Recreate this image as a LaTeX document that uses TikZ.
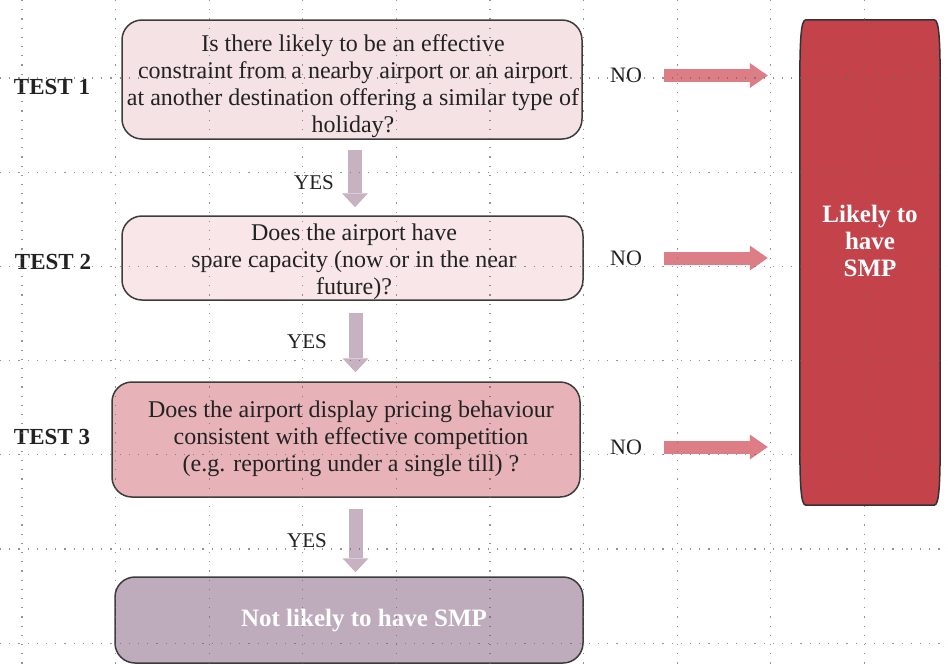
\documentclass[tikz,border=0pt]{standalone}
\usepackage{fontspec}
\setmainfont{Liberation Serif}
\usetikzlibrary{arrows.meta,calc}
\definecolor{bonefill}{HTML}{F5E2E5}
\definecolor{btwofill}{HTML}{F8E6E8}
\definecolor{bthreefill}{HTML}{E7B3B8}
\definecolor{bfourfill}{HTML}{BEABBC}
\definecolor{smpred}{HTML}{C4424A}
\definecolor{arrpink}{HTML}{DD7E86}
\definecolor{arrmauve}{HTML}{C7B2C2}
\definecolor{boxline}{HTML}{3C3C3C}
\definecolor{txt}{HTML}{222222}
\tikzset{
  qbox/.style={draw=boxline, line width=1.5pt, rounded corners=20pt, inner sep=0pt},
  qtext/.style={align=center, inner sep=0pt, text=txt, font=\fontsize{24}{27}\selectfont},
  testlbl/.style={font=\fontsize{23}{27}\selectfont\bfseries, text=txt, inner sep=0pt},
  yeslbl/.style={font=\fontsize{21}{25}\selectfont, text=txt, inner sep=0pt},
  nolbl/.style={font=\fontsize{22}{25}\selectfont, text=txt, inner sep=0pt},
  rarrow/.style={draw=arrpink, line width=13pt, -{Triangle[length=18pt,width=25pt,line width=0pt]}},
  darrow/.style={draw=arrmauve, line width=14pt, -{Triangle[length=14pt,width=26pt,line width=0pt]}},
  gridline/.style={draw=black!60, line width=1.1pt, dash pattern=on 1.2pt off 8pt, opacity=0.7},
  whitebold/.style={text=white, font=\fontsize{25}{27}\selectfont\bfseries, align=center, inner sep=0pt}
}
\begin{document}
\begin{tikzpicture}[x=1pt,y=-1pt]
\useasboundingbox (0,0) rectangle (948,664);
\fill[white] (0,0) rectangle (948,664);

% question boxes
\node[qbox, fill=bonefill, minimum width=460pt, minimum height=119pt] (b1) at (352,79.5) {};
\node[qtext] (b1txt) at (353,86)
  {Is there likely to be an effective\\constraint from a nearby airport or an airport\\at another destination offering a similar type of\\holiday?};
\node[qbox, fill=btwofill, minimum width=461pt, minimum height=84pt] (b2) at (352.5,258) {};
\node[qtext] (b2txt) at (354,262)
  {Does the airport have\\spare capacity (now or in the near\\future)?};
\node[qbox, fill=bthreefill, minimum width=468pt, minimum height=115pt] (b3) at (346,439.5) {};
\node[qtext] (b3txt) at (351,439)
  {Does the airport display pricing behaviour\\consistent with effective competition\\(e.g. reporting under a single till) ?};
\node[qbox, fill=bfourfill, minimum width=468pt, minimum height=86pt] (b4) at (349,620) {};
\node[whitebold] (b4txt) at (364,621) {Not likely to have SMP};

% SMP box
\node[minimum width=140pt, minimum height=485pt, inner sep=0pt] (smp) at (870,262.5) {};
\filldraw[fill=smpred, draw=black!80, line width=1.5pt]
  ($(smp.north west)+(6,0)$) -- ($(smp.north east)+(-6,0)$)
  .. controls ($(smp.north east)+(-1,0)$) and ($(smp.north east)+(0,20)$) .. ($(smp.north east)+(0,70)$)
  -- ($(smp.south east)+(0,-70)$)
  .. controls ($(smp.south east)+(0,-20)$) and ($(smp.south east)+(-1,0)$) .. ($(smp.south east)+(-6,0)$)
  -- ($(smp.south west)+(6,0)$)
  .. controls ($(smp.south west)+(1,0)$) and ($(smp.south west)+(0,-20)$) .. ($(smp.south west)+(0,-70)$)
  -- ($(smp.north west)+(0,70)$)
  .. controls ($(smp.north west)+(0,20)$) and ($(smp.north west)+(1,0)$) .. cycle;
\node[whitebold] (smptxt) at (870,241) {Likely to\\have\\SMP};

% test labels
\node[testlbl] (t1) at (52,87) {TEST 1};
\node[testlbl] (t2) at (53,262) {TEST 2};
\node[testlbl] (t3) at (52,437) {TEST 3};

% YES labels and down arrows
\node[yeslbl] (y1) at (314,183) {YES};
\node[yeslbl] (y2) at (307,342) {YES};
\node[yeslbl] (y3) at (307,541) {YES};
\draw[darrow, shorten <=10pt, shorten >=8pt] ([xshift=3pt]b1.south) -- ([xshift=3pt]b1.south |- b2.north);
\draw[darrow, shorten <=12pt, shorten >=9pt] ([xshift=3pt]b2.south) -- ([xshift=3pt]b2.south |- b3.north);
\draw[darrow, shorten <=11pt, shorten >=4pt] ([xshift=3pt]b2.south |- b3.south) -- ([xshift=3pt]b2.south |- b4.north);

% NO labels and right arrows
\node[nolbl] (n1) at (626,75.5) {NO};
\node[nolbl] (n2) at (626,258) {NO};
\node[nolbl] (n3) at (626,447) {NO};
\draw[rarrow, shorten <=22pt, shorten >=32pt] (n1.east) -- (n1.east -| smp.west);
\draw[rarrow, shorten <=22pt, shorten >=32pt] (n2.east) -- (n2.east -| smp.west);
\draw[rarrow, shorten <=22pt, shorten >=32pt] (n3.east) -- (n3.east -| smp.west);

% dotted grid overlay
\foreach \gx in {22,115.6,209.2,302.8,396.4,490,583.6,677.2,770.8,864.4} {
  \draw[gridline] (\gx,0) -- (\gx,664);
}
\foreach \gy in {78,172.2,266.4,360.6,454.8,549,643.2} {
  \draw[gridline] (0,\gy) -- (948,\gy);
}
\end{tikzpicture}
\end{document}
